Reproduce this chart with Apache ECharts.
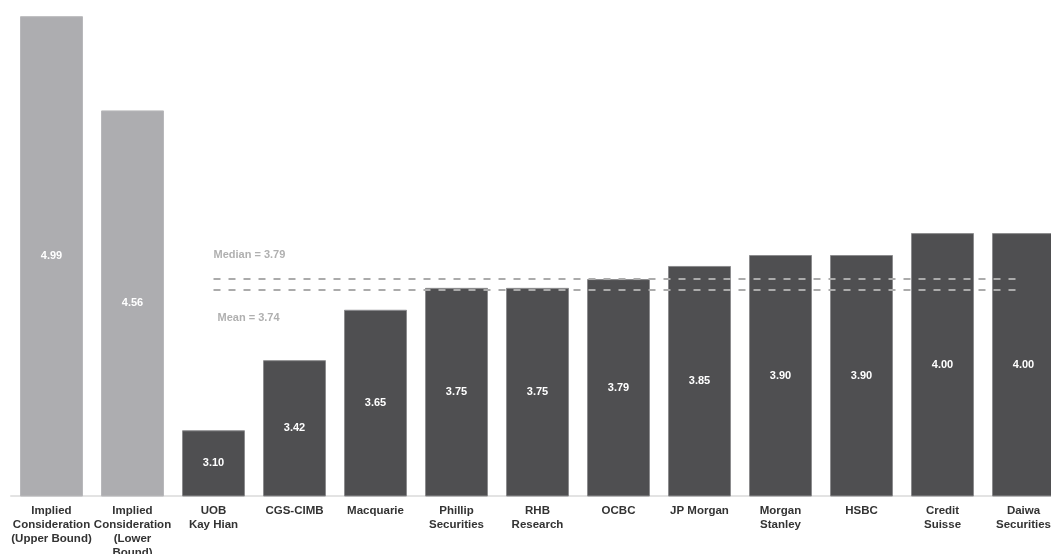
<!DOCTYPE html>
<html>
<head>
<meta charset="utf-8">
<script src="https://cdn.jsdelivr.net/npm/echarts@6/dist/echarts.min.js"></script>
<style>html,body{margin:0;padding:0;background:#fff;}#c{width:1051px;height:554px;}</style>
</head>
<body>
<div id="c"></div>
<script>
const categories = [
  'Implied\nConsideration\n(Upper Bound)',
  'Implied\nConsideration\n(Lower\nBound)',
  'UOB\nKay Hian',
  'CGS-CIMB',
  'Macquarie',
  'Phillip\nSecurities',
  'RHB\nResearch',
  'OCBC',
  'JP Morgan',
  'Morgan\nStanley',
  'HSBC',
  'Credit\nSuisse',
  'Daiwa\nSecurities'
];
const values = [4.99, 4.56, 3.10, 3.42, 3.65, 3.75, 3.75, 3.79, 3.85, 3.90, 3.90, 4.00, 4.00];
const isImplied = [true, true, false, false, false, false, false, false, false, false, false, false, false];
const medianValue = 3.79;
const meanValue = 3.74;
const refStart = 'UOB\nKay Hian';
const refEnd = 'Daiwa\nSecurities';

const chart = echarts.init(document.getElementById('c'));
const font = '"Liberation Sans", Arial, Helvetica, sans-serif';
chart.setOption({
  animation: false,
  grid: { left: 11, width: 1053, top: 14, bottom: 58, containLabel: false, outerBoundsMode: 'none' },
  xAxis: {
    type: 'category',
    data: categories,
    axisLine: { show: true, lineStyle: { color: '#e3e3e3', width: 2 } },
    axisTick: { show: false },
    axisLabel: {
      interval: 0, color: '#333', fontWeight: 'bold', fontSize: 11.5,
      lineHeight: 14, fontFamily: font, margin: 8, hideOverlap: false
    }
  },
  yAxis: { type: 'value', min: 2.8, max: 5.0, show: false, splitLine: { show: false } },
  series: [{
    type: 'bar',
    barWidth: 63,
    data: values.map((v, i) => ({
      value: v,
      itemStyle: isImplied[i]
        ? { color: '#adadb0', borderColor: '#b8b8bb', borderWidth: 1 }
        : { color: '#4f4f51', borderColor: '#8c8c8e', borderWidth: 1 }
    })),
    label: {
      show: true, position: 'inside', color: '#fff', fontWeight: 'bold',
      fontSize: 11, fontFamily: font,
      formatter: p => p.value.toFixed(2)
    },
    markLine: {
      silent: true,
      symbol: 'none',
      lineStyle: { type: [7, 8], color: '#ababab', width: 2 },
      data: [
        [
          { coord: [refStart, medianValue],
            label: { show: true, position: 'insideStartTop', distance: [0, 19],
              formatter: 'Median = ' + medianValue.toFixed(2), color: '#b0b0b0',
              fontWeight: 'bold', fontSize: 11, fontFamily: font } },
          { coord: [refEnd, medianValue] }
        ],
        [
          { coord: [refStart, meanValue],
            label: { show: true, position: 'insideStartBottom', distance: [4, 22],
              formatter: 'Mean = ' + meanValue.toFixed(2), color: '#b0b0b0',
              fontWeight: 'bold', fontSize: 11, fontFamily: font } },
          { coord: [refEnd, meanValue] }
        ]
      ]
    }
  }]
});
</script>
</body>
</html>
